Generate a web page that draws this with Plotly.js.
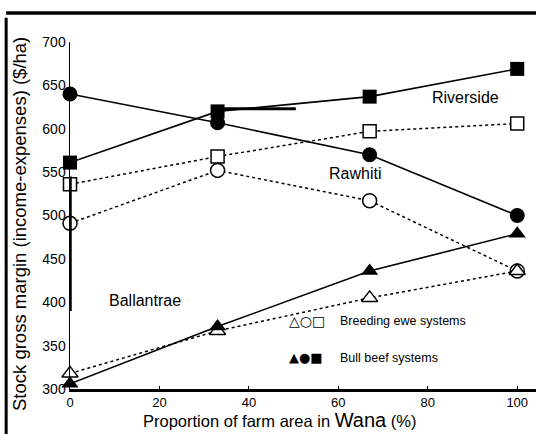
<!DOCTYPE html>
<html><head><meta charset="utf-8">
<script src="https://cdn.plot.ly/plotly-3.0.1.min.js"></script>
<style>html,body{margin:0;padding:0;background:#fff}#c{width:536px;height:434px}</style>
</head><body><div id="c"></div>
<script>
const wana = [0, 33, 67, 100];
const riversideBull = [561, 620, 637, 669];
const riversideEwe = [536, 568, 597, 606];
const rawhitiBull = [640, 607, 570, 500];
const rawhitiEwe = [491, 552, 517, 436];
const ballantraeBull = [306, 372, 436, 479];
const ballantraeEwe = [318, 367, 405, 436];
const xTicks = [0, 20, 40, 60, 80, 100];
const yTicks = [300, 350, 400, 450, 500, 550, 600, 650, 700];

function tr(y, dash, symbol, size, filled) {
  return {x: wana, y: y, type: 'scatter', mode: 'lines+markers', cliponaxis: false,
    line: {color: '#000', width: dash === 'solid' ? 1.6 : 1.5, dash: dash},
    marker: {symbol: symbol, size: size, color: filled ? '#000' : '#fff',
      line: {color: '#000', width: filled ? 0 : 1.5}}, showlegend: false, hoverinfo: 'skip'};
}
const data = [
  tr(riversideEwe, 'dot', 'square', 13, false),
  tr(rawhitiEwe, 'dot', 'circle', 14, false),
  tr(ballantraeEwe, 'dot', 'triangle-up', 14, false),
  tr(riversideBull, 'solid', 'square', 14, true),
  tr(rawhitiBull, 'solid', 'circle', 15, true),
  tr(ballantraeBull, 'solid', 'triangle-up', 15, true)
];
const F = 'Liberation Sans, Arial, sans-serif';
const layout = {
  width: 536, height: 434,
  margin: {l: 70, r: 0, t: 42, b: 45},
  paper_bgcolor: '#fff', plot_bgcolor: '#fff',
  font: {family: F, color: '#000'},
  xaxis: {range: [0, 104.2], tickvals: xTicks, ticktext: xTicks.map(String),
    showgrid: false, zeroline: false, showline: true, linecolor: '#000', linewidth: 2.5,
    ticks: 'inside', ticklen: 3, tickcolor: '#000', tickfont: {size: 13, family: F}},
  yaxis: {range: [300, 700], tickvals: yTicks, ticktext: yTicks.map(String),
    showgrid: false, zeroline: false, showline: true, linecolor: '#000', linewidth: 1.5,
    ticks: '', tickfont: {size: 14, family: F}},
  shapes: [
    {type: 'line', xref: 'paper', yref: 'paper', x0: -0.137, x1: 1.0, y0: 1.0836, y1: 1.0836,
      line: {color: '#000', width: 3.5}},
    {type: 'line', xref: 'paper', yref: 'paper', x0: -0.137, x1: -0.137, y0: 1.07, y1: -0.13,
      line: {color: '#000', width: 3}},
    {type: 'line', xref: 'x', yref: 'y', x0: 0, x1: 0, y0: 390, y1: 545,
      line: {color: '#000', width: 3.5}},
    {type: 'line', xref: 'x', yref: 'y', x0: 33, x1: 50.5, y0: 623, y1: 623,
      line: {color: '#000', width: 3}}
  ],
  annotations: [
    {x: 88.4, y: 636, xref: 'x', yref: 'y', text: 'Riverside', showarrow: false, font: {size: 16, family: F}},
    {x: 63.8, y: 548, xref: 'x', yref: 'y', text: 'Rawhiti', showarrow: false, font: {size: 16, family: F}},
    {x: 16.8, y: 402, xref: 'x', yref: 'y', text: 'Ballantrae', showarrow: false, font: {size: 16, family: F}},
    {x: 48.6, y: 378, xref: 'x', yref: 'y', xanchor: 'left', text: '△○□', showarrow: false, font: {size: 14, family: 'DejaVu Sans'}},
    {x: 60.0, y: 378, xref: 'x', yref: 'y', xanchor: 'left', text: 'Breeding ewe systems', showarrow: false, font: {size: 12.5, family: F}},
    {x: 48.6, y: 336, xref: 'x', yref: 'y', xanchor: 'left', text: '▲●■', showarrow: false, font: {size: 13, family: 'DejaVu Sans'}},
    {x: 60.0, y: 336, xref: 'x', yref: 'y', xanchor: 'left', text: 'Bull beef systems', showarrow: false, font: {size: 12.5, family: F}},
    {xref: 'paper', yref: 'paper', x: (279 - 70) / 466, y: (389 - 420) / 347, xanchor: 'center', yanchor: 'middle',
      text: 'Proportion of farm area in <span style="font-size:20px">Wana</span> (%)', showarrow: false, font: {size: 16.5, family: F}},
    {xref: 'paper', yref: 'paper', x: (19 - 70) / 466, y: (389 - 224) / 347, xanchor: 'center', yanchor: 'middle',
      textangle: -90, text: 'Stock gross margin (income-expenses) ($/ha)', showarrow: false, font: {size: 18.5, family: F}}
  ]
};
Plotly.newPlot('c', data, layout, {staticPlot: true, displayModeBar: false});
</script></body></html>
